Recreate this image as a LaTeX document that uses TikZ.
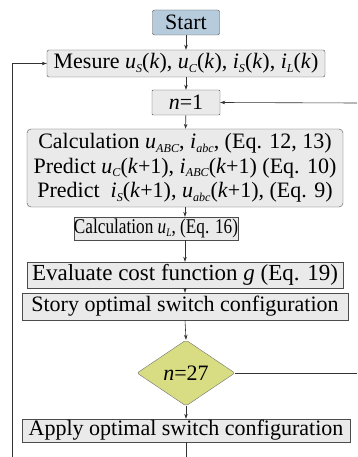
\documentclass[tikz,border=0pt]{standalone}
\usepackage{fontspec}
\setmainfont{Liberation Serif}
\usepackage{graphicx}
\usepackage{xcolor}
\usepackage{tikz}
\usetikzlibrary{
  arrows.meta,
  positioning,
  shapes.geometric
}
\definecolor{startblue}{HTML}{B6CBDC}
\definecolor{boxgray}{HTML}{EAEAEA}
\definecolor{decgreen}{HTML}{D8DD84}
\newcommand{\vsub}[2]{\textit{#1}\raisebox{-0.35ex}{\scalebox{0.55}{\textit{#2}}}}

\begin{document}
\begin{tikzpicture}[x=1pt,y=-1pt,
  font=\fontsize{22}{24.5}\selectfont,
  box/.style={draw=black!70,fill=boxgray,inner sep=0pt,minimum height=24pt,align=center},
  decision/.style={diamond,draw=black!55,fill=decgreen,inner sep=0pt,
    minimum width=98pt,minimum height=66pt,aspect=1.5,rounded corners=2pt},
  arr/.style={-{Stealth[length=5pt,width=3.5pt]},black!80,semithick}]
  \useasboundingbox (0,0) rectangle (357,457);
  % flowchart boxes
  \node[box,fill=startblue,rounded corners=2pt,minimum width=67pt,minimum height=25pt] (start) at (186,22.5) {Start};
  \node[box,rounded corners=2pt,minimum width=278pt,minimum height=27pt] (mesure) at (186,63.5)
    {Mesure \vsub{u}{S}(\textit{k}), \vsub{u}{C}(\textit{k}), \vsub{i}{S}(\textit{k}), \vsub{i}{L}(\textit{k})};
  \node[box,rounded corners=1pt,minimum width=68pt,minimum height=25pt] (none) at (186,102.5) {\textit{n}=1};
  \node[box,rounded corners=4pt,minimum width=316pt,minimum height=78pt] (calc) at (185,168)
    {Calculation \vsub{u}{ABC}, \vsub{i}{abc}, (Eq. 12, 13)\\
     Predict \vsub{u}{C}(\textit{k}+1), \vsub{i}{ABC}(\textit{k}+1) (Eq. 10)\\
     Predict\ \ \vsub{i}{S}(\textit{k}+1), \vsub{u}{abc}(\textit{k}+1), (Eq. 9)};
  \node[box,font=\fontsize{21}{23}\selectfont,minimum width=164pt,minimum height=23pt] (calcl) at (156,228.5)
    {\scalebox{0.82}[1]{Calculation \vsub{u}{L}, (Eq. 16)}};
  \node[box,font=\fontsize{23}{25}\selectfont,minimum width=316pt,minimum height=26pt] (cost) at (185,275) {Evaluate cost function \textit{g} (Eq. 19)};
  \node[box,minimum width=326pt,minimum height=27pt] (store) at (185,306.5) {Story optimal switch configuration};
  \node[decision] (ncheck) at (186,373) {\textit{n}=27};
  \node[box,minimum width=328pt,minimum height=23pt] (apply) at (186,430.5) {Apply optimal switch configuration};
  % free ends of the loops
  \coordinate (loopin) at (12,457);
  \coordinate (loopout) at (186,457);
  \coordinate (nback) at (357,103);
  \coordinate (nexit) at (357,373);
  % main spine
  \draw[arr] (start) -- (mesure);
  \draw[arr] (mesure) -- (none);
  \draw[arr] (none) -- (calc);
  \draw[arr] (calc.south) -- (calc.south |- calcl.north);
  \draw[arr] (calc.south |- calcl.south) -- (calc.south |- cost.north);
  \draw[arr] (cost.south) -- (store.north);
  \draw[arr] (store.south) -- (ncheck.north);
  \draw[arr] (ncheck.south) -- (apply.north);
  \draw[black!80,semithick] (apply.south) -- (loopout);
  % loops
  \draw[arr] (loopin) |- (mesure.west);
  \draw[arr] (nback) -- (none.east);
  \draw[black!80,semithick] (ncheck.east) -- (nexit);
\end{tikzpicture}
\end{document}
